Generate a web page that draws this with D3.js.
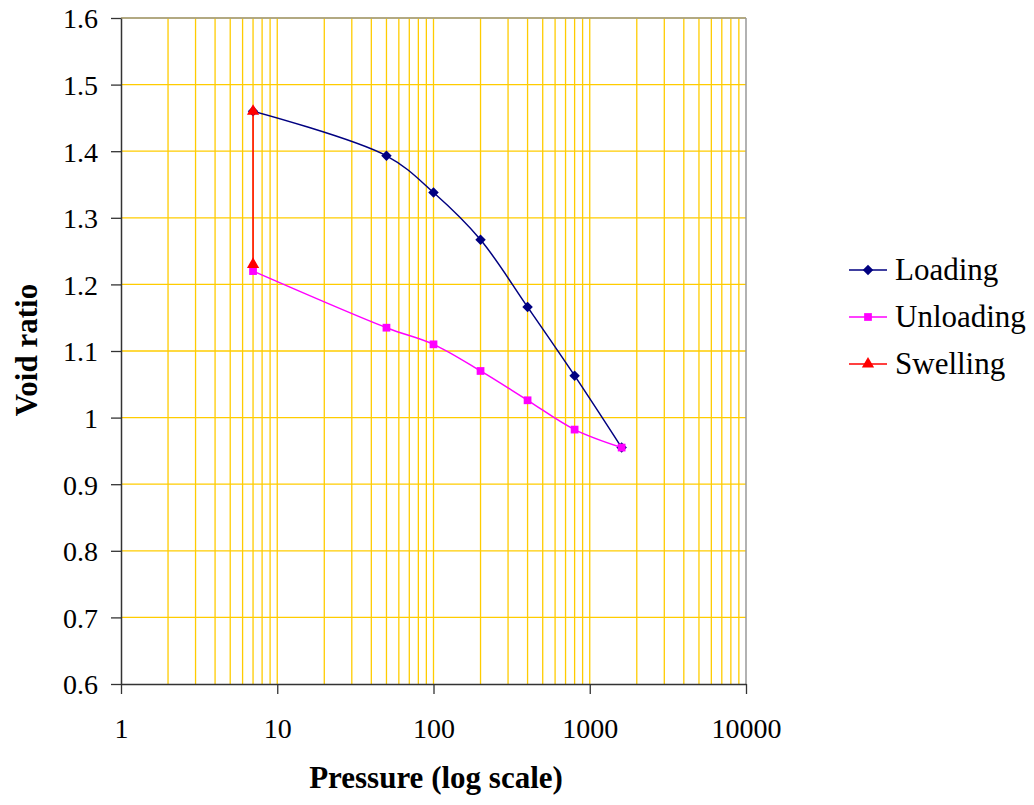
<!DOCTYPE html>
<html><head><meta charset="utf-8">
<script src="https://cdn.jsdelivr.net/npm/d3@7"></script>
<style>body{margin:0;background:#fff}svg{display:block}</style>
</head><body>
<svg id="c" width="1034" height="805"></svg>
<script>
const loadingP = [7, 50, 100, 200, 400, 800, 1600];
const loadingE = [1.460, 1.393, 1.338, 1.267, 1.166, 1.063, 0.955];
const unloadingP = [1600, 800, 400, 200, 100, 50, 7];
const unloadingE = [0.955, 0.982, 1.026, 1.070, 1.110, 1.135, 1.220];
const swellingP = [7, 7];
const swellingE = [1.230, 1.460];
const xTicks = [1, 10, 100, 1000, 10000];
const yTicks = [0.6, 0.7, 0.8, 0.9, 1.0, 1.1, 1.2, 1.3, 1.4, 1.5, 1.6];
const yLabels = ["0.6","0.7","0.8","0.9","1","1.1","1.2","1.3","1.4","1.5","1.6"];

const svg = d3.select("#c");
const L = 121, R = 746, T = 18, B = 684;
const x = d3.scaleLog().domain([1, 10000]).range([L, R]);
const y = d3.scaleLinear().domain([0.6, 1.6]).range([B, T]);
const font = "Liberation Serif, Times New Roman, serif";
const grid = "#FFCC00";

const minor = [];
for (let d = 1; d < 10000; d *= 10) for (let k = 2; k <= 9; k++) minor.push(d * k);
svg.append("g").selectAll("line").data(minor.concat([10,100,1000])).join("line")
  .attr("x1", d => x(d)).attr("x2", d => x(d)).attr("y1", T).attr("y2", B)
  .attr("stroke", grid).attr("stroke-width", 1.3);
svg.append("g").selectAll("line").data(yTicks.slice(1)).join("line")
  .attr("x1", L).attr("x2", R).attr("y1", d => y(d)).attr("y2", d => y(d))
  .attr("stroke", grid).attr("stroke-width", 1.3);
svg.append("line").attr("x1", L).attr("x2", R).attr("y1", T).attr("y2", T).attr("stroke", "#999").attr("stroke-width", 1.5);
svg.append("line").attr("x1", R).attr("x2", R).attr("y1", T).attr("y2", B).attr("stroke", "#999").attr("stroke-width", 1.5);

const xa = svg.append("g").attr("transform", `translate(0,${B})`)
  .call(d3.axisBottom(x).tickValues(xTicks).tickSize(10).tickSizeOuter(0).tickFormat(d3.format("d")));
xa.attr("font-family", font).attr("font-size", 28);
xa.select(".domain").attr("stroke", "#333").attr("stroke-width", 1.5);
xa.selectAll(".tick line").attr("stroke", "#333").attr("stroke-width", 1.3);
xa.selectAll("text").attr("fill", "#000").attr("dy", 0).attr("y", 54);

const ya = svg.append("g").attr("transform", `translate(${L},0)`)
  .call(d3.axisLeft(y).tickValues(yTicks).tickSize(10).tickSizeOuter(0).tickFormat((d, i) => yLabels[i]));
ya.attr("font-family", font).attr("font-size", 28);
ya.select(".domain").attr("stroke", "#333").attr("stroke-width", 1.5);
ya.selectAll(".tick line").attr("stroke", "#333").attr("stroke-width", 1.3);
ya.selectAll("text").attr("fill", "#000").attr("x", -23).attr("dy", "0.35em");

svg.append("text").attr("x", 436).attr("y", 788).attr("text-anchor", "middle")
  .attr("font-family", font).attr("font-size", 31).attr("font-weight", "bold").text("Pressure (log scale)");
svg.append("text").attr("transform", "translate(37,350) rotate(-90)").attr("text-anchor", "middle")
  .attr("font-family", font).attr("font-size", 31).attr("font-weight", "bold").text("Void ratio");

const line = d3.line().x(d => x(d[0])).y(d => y(d[1])).curve(d3.curveCatmullRom.alpha(0.5));
const series = [
  {name: "Loading", P: loadingP, E: loadingE, color: "#000080", sym: d3.symbolDiamond2, size: 70},
  {name: "Unloading", P: unloadingP, E: unloadingE, color: "#FF00FF", sym: d3.symbolSquare, size: 60},
  {name: "Swelling", P: swellingP, E: swellingE, color: "#FF0000", sym: d3.symbolTriangle, size: 65},
];
series.forEach(s => {
  const pts = s.P.map((p, i) => [p, s.E[i]]);
  svg.append("path").datum(pts).attr("d", line).attr("fill", "none").attr("stroke", s.color).attr("stroke-width", 1.5);
  svg.append("g").selectAll("path").data(pts).join("path")
    .attr("transform", d => `translate(${x(d[0])},${y(d[1])})`)
    .attr("d", d3.symbol(s.sym, s.size)).attr("fill", s.color);
});

series.forEach((s, i) => {
  const ly = 270 + i * 47;
  svg.append("line").attr("x1", 849).attr("x2", 887).attr("y1", ly).attr("y2", ly).attr("stroke", s.color).attr("stroke-width", 1.5);
  svg.append("path").attr("transform", `translate(868,${ly})`).attr("d", d3.symbol(s.sym, s.size)).attr("fill", s.color);
  svg.append("text").attr("x", 895).attr("y", ly + 10).attr("font-family", font).attr("font-size", 31).text(s.name);
});
</script>
</body></html>
